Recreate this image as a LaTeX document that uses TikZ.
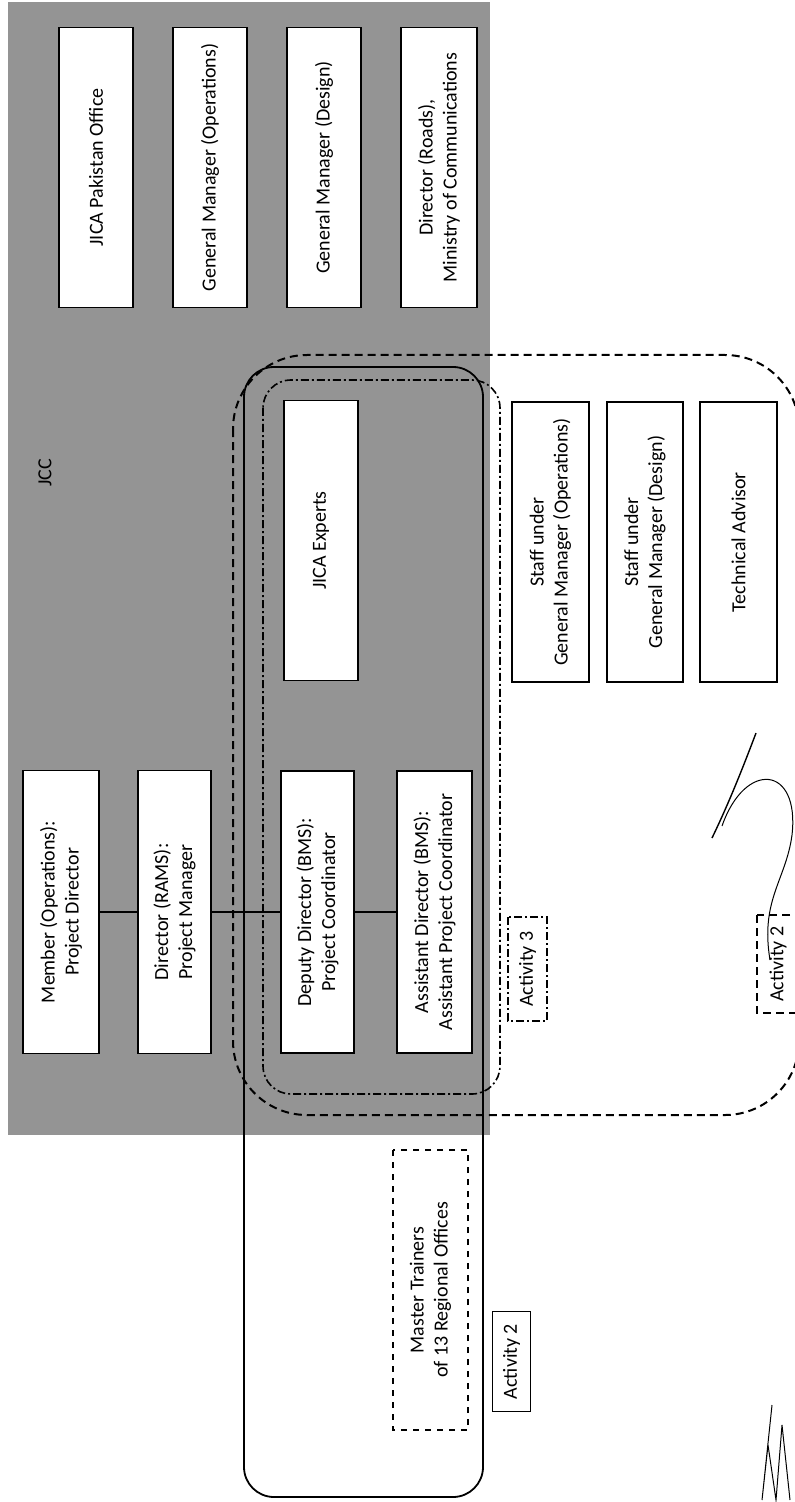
\documentclass[tikz,border=0pt]{standalone}
\usepackage{fontspec}
\setmainfont{Carlito}
\tikzset{
  orgbox/.style={draw, fill=white, line width=0.6pt, rotate=90, align=center,
    inner sep=1pt, minimum width=140pt, minimum height=37pt,
    font=\fontsize{10}{12}\selectfont},
  actbox/.style={draw, fill=white, line width=0.6pt, rotate=90, inner sep=1pt,
    minimum width=50pt, minimum height=19pt, font=\fontsize{10}{12}\selectfont},
  longdash/.style={dash pattern=on 4pt off 2.5pt},
  dashdotline/.style={dash pattern=on 4pt off 1.5pt on 1pt off 1.5pt},
}
\begin{document}
\begin{tikzpicture}[x=0.5pt,y=-0.5pt]
        \useasboundingbox (0,0) rectangle (795,1502);

        % JCC shading
        \fill[black!42] (8,2) rectangle (490,1135);

        % activity regions
        \draw[longdash, line width=1pt, rounded corners=37pt] (233,355) rectangle (799,1115);
        \draw[line width=0.9pt, rounded corners=15pt] (244,367) rectangle (483,1497);
        \draw[dashdotline, line width=0.8pt, rounded corners=14pt] (263,380) rectangle (500,1094);

        \node[rotate=90, font=\fontsize{10}{12}\selectfont] (jcc) at (45,473) {JCC};

        % top row
        \node[orgbox] (jica) at (96,167.5) {JICA Pakistan Office};
        \node[orgbox] (gmops) at (210,167.5) {General Manager (Operations)};
        \node[orgbox] (gmdes) at (324,167.5) {General Manager (Design)};
        \node[orgbox, minimum height=38pt] (dirroads) at (439,167.5) {Director (Roads),\\Ministry of Communications};

        % project line
        \node[orgbox, minimum width=141.5pt, minimum height=38pt] (member) at (61,912) {Member (Operations):\\Project Director};
        \node[orgbox, minimum width=141.5pt, minimum height=36.5pt] (dirrams) at (174.5,912) {Director (RAMS):\\Project Manager};
        \node[orgbox, minimum width=141pt, minimum height=36.5pt] (deputy) at (317.5,912) {Deputy Director (BMS):\\Project Coordinator};
        \node[orgbox, minimum width=141pt, minimum height=37.5pt] (assist) at (434.5,912) {Assistant Director (BMS):\\Assistant Project Coordinator};
        \node[orgbox] (experts) at (321,540.5) {JICA Experts};

        \draw[line width=0.6pt] (member) -- (dirrams);
        \draw[line width=0.6pt] (dirrams) -- (deputy);
        \draw[line width=0.6pt] (deputy) -- (assist);

        % staff
        \node[orgbox, minimum height=38.5pt] (staffops) at (550.5,542) {Staff under\\General Manager (Operations)};
        \node[orgbox, minimum height=38pt] (staffdes) at (645,542) {Staff under\\General Manager (Design)};
        \node[orgbox, minimum height=38.5pt] (techadv) at (738.5,542) {Technical Advisor};

        \node[orgbox, dashed, minimum height=37.5pt] (trainers) at (430.5,1290) {Master Trainers\\of 13 Regional Offices};

        % activity labels
        \node[actbox] (acttwo) at (511.5,1361.5) {Activity 2};
        \node[actbox, dashdotline, minimum width=52pt, minimum height=19.5pt] (actthree) at (527.5,969) {Activity 3};
        \node[actbox, longdash, minimum width=49pt, minimum height=21pt] (acttwob) at (778,964) {Activity 2};

        % signatures
        \draw[line width=0.7pt] (756,733) .. controls (742,770) and (728,805) .. (712,838);
        \draw[line width=0.5pt] (722,826) .. controls (745,760) and (800,765) .. (792,835)
              .. controls (786,880) and (760,900) .. (770,960);
        \draw[line width=0.5pt] (772,1405) -- (762,1500) -- (768,1445) -- (776,1500) -- (782,1425) -- (790,1500);
    \end{tikzpicture}
\end{document}
